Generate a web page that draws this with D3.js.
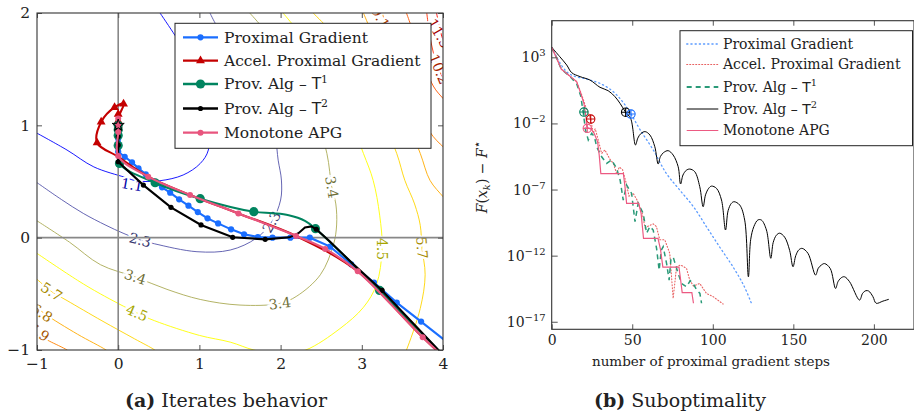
<!DOCTYPE html>
<html>
<head>
<meta charset="utf-8">
<script src="https://cdn.jsdelivr.net/npm/d3@7"></script>
<style>
body { margin: 0; background: #fff; }
svg text { font-family: "DejaVu Serif", serif; fill: #222; }
</style>
</head>
<body>
<svg id="fig" width="914" height="416"></svg>
<script>
// ---------- (a) iterates: contour lines of F and iterates, in (x1, x2) ----------
var xTicksL = [-1, 0, 1, 2, 3, 4];
var yTicksL = [-1, 0, 1, 2];
var contourLevels = ["1.1", "2.3", "3.4", "4.5", "5.7", "6.8", "7.9", "9.1", "10.2", "11.3"];

var c11 = [[-1, 0.93], [-0.63, 0.78], [-0.3, 0.63], [0.085, 0.537], [0.23, 0.505], [0.515, 0.507], [0.8, 0.558], [1.01, 0.66], [1.11, 0.78], [1.1, 1.0], [0.98, 1.35], [0.8, 1.68], [0.7, 1.8], [0.515, 2.0]];
var c23 = [[-1, 0.49], [-0.7, 0.34], [-0.43, 0.216], [-0.15, 0.11], [0.06, 0.04], [0.27, -0.02], [0.45, -0.055], [0.97, -0.125], [1.38, -0.11], [1.7, -0.005], [1.89, 0.14], [2.0, 0.335], [2.01, 0.513], [1.97, 0.69], [1.93, 0.9], [1.75, 1.25], [1.48, 1.6], [1.21, 1.89], [1.13, 2.0]];
var c34 = [[-1, 0.15], [-0.6, -0.04], [-0.22, -0.24], [0.21, -0.35], [0.6, -0.46], [1.01, -0.55], [1.5, -0.6], [1.99, -0.585], [2.2, -0.52], [2.49, -0.33], [2.65, -0.065], [2.69, 0.113], [2.68, 0.3], [2.63, 0.45], [2.57, 0.75], [2.4, 1.15], [2.1, 1.55], [1.8, 1.85], [1.62, 2.0]];
var c45 = [[-1, -0.14], [-0.5, -0.38], [-0.22, -0.5], [0.23, -0.67], [0.45, -0.74], [1.0, -0.87], [1.38, -0.93], [1.67, -1.0], [2.0, -1.04], [2.31, -1.0], [2.73, -0.81], [3.02, -0.62], [3.18, -0.42], [3.25, -0.1], [3.22, 0.2], [3.14, 0.51], [3.02, 0.75], [2.8, 1.15], [2.5, 1.55], [2.2, 1.85], [2.03, 2.0]];
var c57a = [[-1, -0.37], [-0.82, -0.48], [-0.63, -0.56], [-0.2, -0.74], [0.2, -0.9], [0.45, -1.0], [0.5, -1.03]];
var c57b = [[3.53, -1.03], [3.55, -1.0], [3.72, -0.63], [3.78, -0.33], [3.74, -0.09], [3.72, 0.11], [3.65, 0.3], [3.53, 0.51], [3.43, 0.75], [3.2, 1.15], [2.9, 1.55], [2.6, 1.85], [2.4, 2.0]];
var c68a = [[-1, -0.62], [-0.9, -0.68], [-0.5, -0.86], [-0.15, -1.0], [-0.1, -1.03]];
var c68b = [[4.05, 0.32], [4.0, 0.365], [3.84, 0.51], [3.72, 0.75], [3.5, 1.15], [3.25, 1.6], [3.02, 2.0]];
var c79a = [[-1, -0.86], [-0.85, -0.92], [-0.63, -1.0], [-0.58, -1.03]];
var c79b = [[4.05, 0.78], [4.0, 0.81], [3.84, 0.94], [3.6, 1.35], [3.4, 1.7], [3.25, 2.0]];
var c91 = [[4.05, 1.2], [4.0, 1.24], [3.88, 1.35], [3.7, 1.7], [3.55, 2.0]];
var c102 = [[4.05, 1.36], [4.0, 1.42], [3.92, 1.55], [3.85, 1.75], [3.8, 2.0]];
var c113 = [[4.05, 1.7], [4.0, 1.76], [3.95, 1.9], [3.92, 2.0]];

// [level index, x1, x2, angle]
var contourLabels = [
  [0, 0.17, 0.47, 10], [1, 0.27, -0.02, 14], [1, 1.89, 0.14, -60],
  [2, 0.21, -0.35, 18], [2, 1.99, -0.585, -8], [2, 2.63, 0.45, 80],
  [3, 0.23, -0.67, 24], [3, 3.25, -0.1, 90], [4, -0.82, -0.48, 33], [4, 3.74, -0.09, 86],
  [5, -0.94, -0.67, 33], [6, -0.98, -0.84, 35], [7, 3.23, 1.96, 60], [8, 3.95, 1.5, 68], [9, 3.95, 1.82, 60]
];

var pgIter = [[4.05, -0.93], [3.73, -0.747], [3.43, -0.578], [3.15, -0.4], [2.87, -0.237], [2.61, -0.08], [2.36, 0], [2.12, 0], [1.9, 0], [1.72, 0.006], [1.55, 0.03], [1.39, 0.074], [1.23, 0.127], [1.1, 0.172], [0.98, 0.228], [0.865, 0.285], [0.75, 0.341], [0.64, 0.4], [0.54, 0.448], [0.44, 0.5], [0.34, 0.563], [0.25, 0.617], [0.17, 0.67], [0.08, 0.72], [0, 0.765], [0, 0.8], [0, 0.84], [0, 0.88], [0, 0.91], [0, 0.94], [0, 0.96], [0, 0.98], [0, 1.0]];
var apgPath = [[4.6, -1.45], [3.75, -0.886], [2.95, -0.3], [2.19, 0.015], [1.48, 0.216], [0.885, 0.38], [0.37, 0.543], [0, 0.72], [-0.26, 0.845], [-0.21, 1.03], [-0.045, 1.16], [0.066, 1.19], [0.02, 1.1], [0, 1.04], [0, 1.0]];
var apgIter = [[-0.26, 0.845], [-0.21, 1.03], [-0.045, 1.16], [0.066, 1.19], [0, 1.1], [0, 1.04], [0, 1.0]];
var t1Path = [[4.1, -1.12], [3.22, -0.47], [2.43, 0.08], [2.3, 0.15], [2.1, 0.2], [1.9, 0.218], [1.67, 0.231], [1.01, 0.347], [0.455, 0.489], [0.016, 0.661], [0, 0.82], [0, 1.0]];
var t1Iter = [[3.22, -0.47], [2.43, 0.08], [1.67, 0.231], [1.01, 0.347], [0.455, 0.489], [0.016, 0.661], [0, 0.82], [0, 0.91], [0, 0.96], [0, 1.0]];
var t2Path = [[4.1, -1.12], [3.25, -0.47], [2.9, -0.24], [2.6, -0.03], [2.44, 0.075], [2.38, 0.1], [2.3, 0.09], [2.22, 0.04], [2.11, 0.003], [1.81, -0.015], [1.41, 0.003], [1.02, 0.113], [0.65, 0.27], [0.31, 0.468], [0, 0.676], [0, 1.0]];
var t2Iter = [[3.25, -0.47], [2.44, 0.075], [1.81, -0.015], [1.41, 0.003], [1.02, 0.113], [0.65, 0.27], [0.31, 0.468], [0, 0.676], [0, 0.825], [0, 0.9], [0, 0.96]];
var mapgIter = [[4.6, -1.45], [3.75, -0.886], [2.95, -0.3], [2.55, -0.1], [2.19, 0.015], [1.48, 0.216], [0.885, 0.38], [0.37, 0.543], [0, 0.726], [0, 0.94], [0, 1.06], [0, 1.0]];
var xStar = [0, 1];

// ---------- (b) suboptimality: [step k, log10(F(x_k) - F*)] ----------
var xTicksR = [0, 50, 100, 150, 200];
var yTickExpR = [3, -2, -7, -12, -17];
var pgGap = [[0, 3.76], [5, 2.6], [9, 1.95], [13, 1.62], [22, 1.34], [30, 1.03], [38, 0.42], [44, -0.35], [49.2, -1.29], [55, -2.5], [63, -4.0], [71, -5.75], [79.5, -7.04], [88, -8.3], [96, -9.8], [104, -11.3], [112.5, -12.84], [119, -14.2], [124, -15.6]];
var apgGap = [[0, 3.76], [3, 2.95], [6, 2.1], [11, 1.6], [15.5, 1.16], [18.5, 0.2], [21, -0.7], [24.2, -1.67], [25.8, -2.75], [27, -2.4], [28.9, -3.26], [31, -4.27], [33, -4.0], [36.2, -4.72], [38.2, -5.02], [40.3, -5.78], [42, -5.3], [44, -5.5], [46, -6.4], [48, -7.5], [50.6, -7.29], [53, -7.8], [56.2, -8.8], [58, -9.9], [61, -9.7], [63, -9.6], [65, -9.8], [67.1, -10.8], [70.2, -10.8], [73.3, -11.83], [75.4, -15.23], [77.5, -12.84], [80, -12.7], [83.7, -12.97], [85.7, -13.85], [88, -14.3], [91.9, -14.1], [96.1, -14.86], [100.2, -15.1], [106.4, -15.66]];
var t1Gap = [[0, 3.76], [3, 2.95], [6, 2.1], [11, 1.6], [15.5, 1.0], [18, 0.1], [19.5, -1.12], [21, -2.5], [22.7, -3.25], [24.8, -2.75], [26.5, -3.0], [27.9, -3.76], [31, -4.52], [34.1, -5.02], [37.2, -4.77], [40.3, -5.4], [42.5, -6.3], [44.4, -7.8], [46.5, -6.66], [49.6, -7.29], [51.7, -9.43], [53.7, -8.04], [56.8, -8.8], [58.9, -10.3], [61, -9.8], [63, -10.06], [65.1, -11.45], [66.7, -13.1], [68, -11.6], [69.2, -11.32], [71.3, -12.58], [72.9, -13.85], [74, -12.3], [75.4, -12.1], [78.5, -13.35], [80.6, -14.1], [83.7, -14.35], [86, -13.9], [87.8, -14.1], [90, -14.6], [92, -14.86], [93, -15.6]];
var t2Gap = [[0, 3.76], [5, 3.05], [9.3, 2.42], [12.4, 1.84], [17.6, 1.54], [23.8, 1.28], [30, 0.73], [35, 0.48], [39.3, 0.02], [42.4, -0.48], [45.9, -1.15], [49, -1.62], [52, -3.63], [53.5, -3.1], [55.5, -2.75], [58, -2.62], [61, -2.88], [64, -3.76], [66.1, -5.07], [67.5, -4.5], [69.5, -4.2], [72.3, -4.06], [75.4, -4.39], [78.5, -5.27], [80, -6.58], [81.5, -5.9], [83.5, -5.55], [85.7, -5.45], [88.8, -5.65], [91.9, -6.78], [94, -8.3], [95.5, -7.4], [97.5, -6.9], [99.2, -6.74], [102.3, -6.91], [105.4, -7.79], [107.9, -10.06], [109.5, -8.6], [111.5, -8.05], [113.2, -7.92], [116.7, -8.17], [119.8, -9.31], [122.1, -13.6], [123.5, -10.8], [125.5, -9.8], [128, -9.3], [130.2, -9.31], [133.3, -10.06], [136, -12.2], [137.5, -11.0], [139.5, -10.45], [141.5, -10.3], [144.6, -10.6], [147.7, -11.6], [149.8, -12.84], [151.5, -12.0], [153.5, -11.55], [155.5, -11.45], [159.1, -11.83], [163.8, -13.47], [165.5, -12.95], [167.5, -12.7], [169.4, -12.6], [172.9, -12.97], [176.2, -14.48], [177.8, -13.95], [180, -13.65], [181.8, -13.6], [184.9, -13.97], [191.1, -15.36], [193, -14.85], [195, -14.65], [196.8, -14.68], [199.4, -15.1], [201.4, -15.6], [205.6, -15.44], [209.3, -15.3]];
var mapgGap = [[0, 3.76], [3, 2.95], [6, 2.1], [11, 1.6], [15.5, 1.16], [18, 0.28], [20, -0.48], [21.3, -1.5], [21.8, -2.3], [24.7, -2.45], [26.4, -2.76], [28.5, -3.39], [29.5, -4.4], [30.5, -5.8], [44.5, -5.8], [45.5, -6.8], [46.5, -8.05], [54, -8.05], [55.5, -8.8], [57, -10.7], [66, -10.7], [67.5, -11.5], [69, -12.86], [79, -12.86], [80, -13.8], [81, -14.8], [87, -14.8], [88, -15.6]];
// [step, log10 gap, series index] where the provable algorithm switches
var switchMarks = [[20, -1.14, 2], [24.2, -1.67, 1], [22.1, -2.37, 4], [45.9, -1.15, 3], [49.2, -1.29, 0]];

var legendNames = [["Proximal Gradient", ""], ["Accel. Proximal Gradient", ""], ["Prov. Alg – ", "1"], ["Prov. Alg – ", "2"], ["Monotone APG", ""]];
var colA = ["#1a6eff", "#c40000", "#00845f", "#000000", "#e8557e"];
var colB = ["#5b9bff", "#e86262", "#2a9a78", "#000000", "#ec5a82"];
var markB = ["#1a6eff", "#c40000", "#00845f", "#000000", "#ec5a82"];

var svg = d3.select("#fig");
var defs = svg.append("defs");

function styleAxis(g, fs) {
  g.select(".domain").remove();
  g.selectAll(".tick line").attr("stroke", "#555");
  g.selectAll(".tick text").style("font-size", fs + "px");
}

// ======================= panel (a) =======================
var pl = { left: 37, right: 443, top: 13, bottom: 350 };
var xL = d3.scaleLinear().domain([-1, 4]).range([pl.left, pl.right]);
var yL = d3.scaleLinear().domain([-1, 2]).range([pl.bottom, pl.top]);

defs.append("clipPath").attr("id", "clipL").append("rect")
  .attr("x", pl.left).attr("y", pl.top)
  .attr("width", pl.right - pl.left).attr("height", pl.bottom - pl.top);

var colormap = d3.scaleLinear().domain([0, 1 / 3, 2 / 3, 1])
  .range(["#0000ff", "#ffff00", "#ff8000", "#ff0000"]);
function levelColor(i) { return colormap(i / (contourLevels.length - 1)); }
function labelColor(i) { return d3.interpolateRgb(levelColor(i), "#000")(0.35); }

var lineL = d3.line().x(function(d) { return xL(d[0]); }).y(function(d) { return yL(d[1]); })
  .curve(d3.curveCatmullRom.alpha(0.5));

var contourPieces = [[0, c11], [1, c23], [2, c34], [3, c45], [4, c57a], [4, c57b],
  [5, c68a], [5, c68b], [6, c79a], [6, c79b], [7, c91], [8, c102], [9, c113]];

var gA = svg.append("g").attr("clip-path", "url(#clipL)");
gA.selectAll("path.contour").data(contourPieces).enter().append("path")
  .attr("class", "contour")
  .attr("d", function(d) { return lineL(d[1]); })
  .attr("fill", "none")
  .attr("stroke", function(d) { return levelColor(d[0]); })
  .attr("stroke-width", 0.9);

gA.selectAll("text.clabel").data(contourLabels).enter().append("text")
  .attr("class", "clabel")
  .attr("transform", function(d) { return "translate(" + xL(d[1]) + "," + yL(d[2]) + ") rotate(" + d[3] + ")"; })
  .attr("text-anchor", "middle").attr("dy", "0.35em")
  .style("font-size", "14px")
  .style("fill", function(d) { return labelColor(d[0]); })
  .attr("stroke", "#fff").attr("stroke-width", 5).attr("paint-order", "stroke")
  .text(function(d) { return contourLevels[d[0]]; });

// zero lines
gA.append("line").attr("x1", xL(0)).attr("x2", xL(0)).attr("y1", pl.top).attr("y2", pl.bottom)
  .attr("stroke", "#888").attr("stroke-width", 1.6);
gA.append("line").attr("x1", pl.left).attr("x2", pl.right).attr("y1", yL(0)).attr("y2", yL(0))
  .attr("stroke", "#888").attr("stroke-width", 1.6);

function drawMarks(sel, pts, color, kind, size) {
  if (kind === "triangle") {
    sel.selectAll(null).data(pts).enter().append("path")
      .attr("transform", function(d) { return "translate(" + xL(d[0]) + "," + yL(d[1]) + ")"; })
      .attr("d", d3.symbol(d3.symbolTriangle, size))
      .attr("fill", color);
  } else {
    sel.selectAll(null).data(pts).enter().append("circle")
      .attr("cx", function(d) { return xL(d[0]); })
      .attr("cy", function(d) { return yL(d[1]); })
      .attr("r", size).attr("fill", color);
  }
}

var gTraj = gA.append("g");
var trajectories = [
  { path: pgIter, iter: pgIter.slice(1), kind: "circle", size: 3.1, curve: d3.curveLinear },
  { path: apgPath, iter: apgIter, kind: "triangle", size: 34, curve: d3.curveCatmullRom.alpha(0.5) },
  { path: t1Path, iter: t1Iter, kind: "circle", size: 4.6, curve: d3.curveCatmullRom.alpha(0.5) },
  { path: t2Path, iter: t2Iter, kind: "circle", size: 2.6, curve: d3.curveLinear },
  { path: mapgIter, iter: mapgIter.slice(1), kind: "circle", size: 3.0, curve: d3.curveCatmullRom.alpha(0.5) }
];
trajectories.forEach(function(t, i) {
  var g = gTraj.append("g");
  g.append("path")
    .attr("d", d3.line().x(function(d) { return xL(d[0]); }).y(function(d) { return yL(d[1]); }).curve(t.curve)(t.path))
    .attr("fill", "none").attr("stroke", colA[i]).attr("stroke-width", 2.1);
  drawMarks(g, t.iter, colA[i], t.kind, t.size);
});
gTraj.append("path")
  .attr("transform", "translate(" + xL(xStar[0]) + "," + yL(xStar[1]) + ")")
  .attr("d", d3.symbol(d3.symbolStar, 45))
  .attr("fill", "none").attr("stroke", "#000").attr("stroke-width", 1);

// axes of (a)
var fmtInt = d3.format("d");
var axA = svg.append("g");
axA.append("g").attr("transform", "translate(0," + pl.bottom + ")")
  .call(d3.axisBottom(xL).tickValues(xTicksL).tickFormat(fmtInt).tickSizeInner(-5).tickSizeOuter(0).tickPadding(8))
  .call(styleAxis, 15.5);
axA.append("g").attr("transform", "translate(0," + pl.top + ")")
  .call(d3.axisTop(xL).tickValues(xTicksL).tickSizeInner(-5).tickSizeOuter(0).tickFormat(""))
  .call(styleAxis, 15.5);
axA.append("g").attr("transform", "translate(" + pl.left + ",0)")
  .call(d3.axisLeft(yL).tickValues(yTicksL).tickFormat(fmtInt).tickSizeInner(-5).tickSizeOuter(0).tickPadding(7))
  .call(styleAxis, 15.5);
axA.append("g").attr("transform", "translate(" + pl.right + ",0)")
  .call(d3.axisRight(yL).tickValues(yTicksL).tickSizeInner(-5).tickSizeOuter(0).tickFormat(""))
  .call(styleAxis, 15.5);
axA.append("rect").attr("x", pl.left).attr("y", pl.top)
  .attr("width", pl.right - pl.left).attr("height", pl.bottom - pl.top)
  .attr("fill", "none").attr("stroke", "#333").attr("stroke-width", 1.1);

function legendText(g, x, y, fs, entry) {
  var t = g.append("text").attr("x", x).attr("y", y).attr("dy", "0.35em").style("font-size", fs + "px");
  t.append("tspan").text(entry[0]);
  if (entry[1]) {
    t.append("tspan").style("font-family", "'DejaVu Sans', sans-serif").text("T");
    t.append("tspan").attr("dy", -fs * 0.42).style("font-size", (fs * 0.7) + "px").text(entry[1]);
  }
}

// legend (a)
var legA = svg.append("g");
legA.append("rect").attr("x", 175).attr("y", 23.3).attr("width", 256).attr("height", 125)
  .attr("fill", "#fff").attr("stroke", "#222").attr("stroke-width", 1);
var legAy = [37.3, 60.7, 84, 108.5, 132.7];
legendNames.forEach(function(e, i) {
  var y = legAy[i];
  legA.append("line").attr("x1", 183).attr("x2", 218).attr("y1", y).attr("y2", y)
    .attr("stroke", colA[i]).attr("stroke-width", 2.3);
  var t = trajectories[i];
  if (t.kind === "triangle") {
    legA.append("path").attr("transform", "translate(200.5," + y + ")")
      .attr("d", d3.symbol(d3.symbolTriangle, t.size)).attr("fill", colA[i]);
  } else {
    legA.append("circle").attr("cx", 200.5).attr("cy", y).attr("r", t.size).attr("fill", colA[i]);
  }
  legendText(legA, 224, y, 15.5, e);
});

// ======================= panel (b) =======================
var pr = { left: 551.7, right: 914, top: 20.7, bottom: 329.3 };
var xR = d3.scaleLinear().domain([0, 224.9]).range([pr.left, pr.right]);
var yR = d3.scaleLog().domain([Math.pow(10, -17.57), Math.pow(10, 5.77)]).range([pr.bottom, pr.top]);

defs.append("clipPath").attr("id", "clipR").append("rect")
  .attr("x", pr.left).attr("y", pr.top)
  .attr("width", pr.right - pr.left).attr("height", pr.bottom - pr.top);

var lineR = d3.line().x(function(d) { return xR(d[0]); }).y(function(d) { return yR(Math.pow(10, d[1])); });

var gB = svg.append("g").attr("clip-path", "url(#clipR)");
var gapSeries = [
  { data: pgGap, width: 1.3, dash: "1.2,3", curve: d3.curveCatmullRom.alpha(0.5), cap: "round" },
  { data: apgGap, width: 1.1, dash: "1,2", curve: d3.curveLinear, cap: "round" },
  { data: t1Gap, width: 1.5, dash: "5,4", curve: d3.curveLinear, cap: "butt" },
  { data: t2Gap, width: 1.0, dash: null, curve: d3.curveCatmullRom.alpha(0.5), cap: "butt" },
  { data: mapgGap, width: 1.2, dash: null, curve: d3.curveLinear, cap: "butt" }
];
gapSeries.forEach(function(s, i) {
  gB.append("path")
    .attr("d", lineR.curve(s.curve)(s.data))
    .attr("fill", "none").attr("stroke", colB[i]).attr("stroke-width", s.width)
    .attr("stroke-dasharray", s.dash).attr("stroke-linecap", s.cap);
});
var marks = gB.selectAll("g.sw").data(switchMarks).enter().append("g")
  .attr("class", "sw")
  .attr("transform", function(d) { return "translate(" + xR(d[0]) + "," + yR(Math.pow(10, d[1])) + ")"; })
  .attr("stroke", function(d) { return markB[d[2]]; }).attr("fill", "none").attr("stroke-width", 1.1);
marks.append("circle").attr("r", 4.2);
marks.append("path").attr("d", "M-4.2,0H4.2M0,-4.2V4.2");

var axB = svg.append("g");
axB.append("g").attr("transform", "translate(0," + pr.bottom + ")")
  .call(d3.axisBottom(xR).tickValues(xTicksR).tickSizeInner(-5).tickSizeOuter(0).tickPadding(6))
  .call(styleAxis, 14);
axB.append("g").attr("transform", "translate(0," + pr.top + ")")
  .call(d3.axisTop(xR).tickValues(xTicksR).tickSizeInner(-5).tickSizeOuter(0).tickFormat(""))
  .call(styleAxis, 14);
var yAxB = axB.append("g").attr("transform", "translate(" + pr.left + ",0)")
  .call(d3.axisLeft(yR).tickValues(yTickExpR.map(function(e) { return Math.pow(10, e); }))
    .tickSizeInner(-6).tickSizeOuter(0).tickPadding(6))
  .call(styleAxis, 14);
yAxB.selectAll(".tick text").each(function(d) {
  var e = Math.round(Math.log10(d));
  var t = d3.select(this).text("10");
  t.append("tspan").attr("dy", -6).style("font-size", "10px").text(e < 0 ? "−" + (-e) : String(e));
});
axB.append("rect").attr("x", pr.left).attr("y", pr.top)
  .attr("width", pr.right - pr.left).attr("height", pr.bottom - pr.top)
  .attr("fill", "none").attr("stroke", "#333").attr("stroke-width", 1.1);

// axis titles (b)
var yl = svg.append("text").attr("transform", "translate(487,177) rotate(-90)")
  .attr("text-anchor", "middle").style("font-size", "14px");
yl.append("tspan").style("font-style", "italic").text("F");
yl.append("tspan").text("(");
yl.append("tspan").style("font-style", "italic").text("x");
yl.append("tspan").attr("dy", 3).style("font-size", "10px").style("font-style", "italic").text("k");
yl.append("tspan").attr("dy", -3).text(") − ");
yl.append("tspan").style("font-style", "italic").text("F");
yl.append("tspan").attr("dy", -6).style("font-size", "12px")
  .style("font-family", "'DejaVu Sans', sans-serif").text("⋆");

svg.append("text").attr("x", 711).attr("y", 366).attr("text-anchor", "middle")
  .style("font-size", "13.5px").text("number of proximal gradient steps");

// legend (b)
var legB = svg.append("g");
legB.append("rect").attr("x", 680).attr("y", 30.7).attr("width", 232.5).attr("height", 115)
  .attr("fill", "#fff").attr("stroke", "#222").attr("stroke-width", 1);
var legBy = [44, 64.5, 87, 109, 130.5];
legendNames.forEach(function(e, i) {
  var y = legBy[i], s = gapSeries[i];
  legB.append("line").attr("x1", 686.7).attr("x2", 718.3).attr("y1", y).attr("y2", y)
    .attr("stroke", colB[i]).attr("stroke-width", s.width + (i === 2 ? 0.6 : 0))
    .attr("stroke-dasharray", s.dash).attr("stroke-linecap", s.cap);
  legendText(legB, 723, y, 14, e);
});

// captions
function caption(x, tag, rest) {
  var t = svg.append("text").attr("x", x).attr("y", 407).attr("text-anchor", "middle").style("font-size", "19px");
  t.append("tspan").style("font-weight", "bold").text(tag);
  t.append("tspan").text(" " + rest);
}
caption(226, "(a)", "Iterates behavior");
caption(680, "(b)", "Suboptimality");
</script>
</body>
</html>
